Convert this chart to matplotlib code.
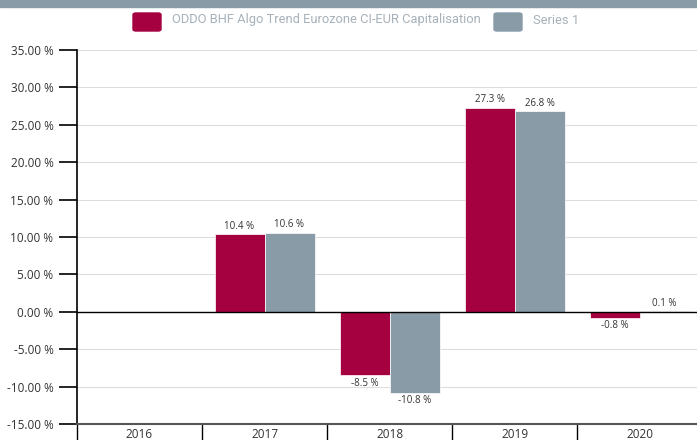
import numpy as np
import matplotlib.pyplot as plt
from matplotlib.patches import FancyBboxPatch, Rectangle
from matplotlib.ticker import FixedLocator

years = ['2016', '2017', '2018', '2019', '2020']
fund = [np.nan, 10.4, -8.5, 27.3, -0.8]
series1 = [np.nan, 10.6, -10.8, 26.8, 0.1]
series_names = ['ODDO BHF Algo Trend Eurozone CI-EUR Capitalisation', 'Series 1']
y_ticks = [35, 30, 25, 20, 15, 10, 5, 0, -5, -10, -15]

red = '#a50040'
grey = '#8a9ba8'
txt = '#333333'

plt.rcParams['font.family'] = ['Open Sans', 'DejaVu Sans']

W, H = 697, 440
fig = plt.figure(figsize=(W / 100, H / 100), dpi=100)
ax = fig.add_axes([77 / W, 1 - 424 / H, 625 / W, 374 / H])

x = np.arange(len(years))
bw = 0.4
ax.bar(x - bw / 2, fund, bw, color=red, edgecolor='white', linewidth=0.5, zorder=3)
ax.bar(x + bw / 2, series1, bw, color=grey, edgecolor='white', linewidth=0.5, zorder=3)

for xs, vals in ((x - bw / 2, fund), (x + bw / 2, series1)):
    for xi, v in zip(xs, vals):
        if np.isnan(v):
            continue
        off = 0.3 if v >= 0 else -0.3
        ax.text(xi, v + off, f'{v:.1f} %', ha='center', va='bottom' if v >= 0 else 'top',
                fontsize=7, color=txt, zorder=4)

ax.set_xlim(-0.5, len(years) - 0.5)
ax.set_ylim(-15, 35)
ax.set_yticks(y_ticks)
ax.set_yticklabels([f'{t:.2f} %' for t in y_ticks])
ax.tick_params(axis='y', length=13, width=1.2, color='black', labelsize=8.5, labelcolor=txt, pad=4)
ax.grid(axis='y', color='#dddddd', linewidth=0.8, zorder=0)
ax.axhline(0, color='black', linewidth=1, zorder=4)

ax.set_xticks(x)
ax.set_xticklabels(years)
ax.tick_params(axis='x', which='major', length=0, labelsize=8.5, labelcolor=txt, pad=3)
ax.xaxis.set_minor_locator(FixedLocator(np.arange(len(years)) - 0.5))
ax.tick_params(axis='x', which='minor', length=12, width=1, color='black', direction='out')

for s in ('top', 'right'):
    ax.spines[s].set_visible(False)
ax.spines['left'].set_color('black')
ax.spines['left'].set_linewidth(1.2)
ax.spines['bottom'].set_color('#555555')
ax.spines['bottom'].set_linewidth(1.5)

# top band
fig.patches.append(Rectangle((0, 1 - 7 / H), 1, 7 / H, transform=fig.transFigure,
                             color=grey, zorder=0))

# legend
def legend_item(x0, color, label):
    fig.patches.append(FancyBboxPatch((x0 / W, 1 - 31 / H), 28 / W, 18 / H,
                                      boxstyle='round,pad=0,rounding_size=0.004',
                                      transform=fig.transFigure, color=color))
    fig.text((x0 + 39) / W, 1 - 20 / H, label, fontsize=9.3, color='#a7b1ba',
             va='center', ha='left', family=['Roboto', 'DejaVu Sans'])

legend_item(133, red, series_names[0])
legend_item(494, grey, series_names[1])

fig.savefig('out.png', dpi=100)
